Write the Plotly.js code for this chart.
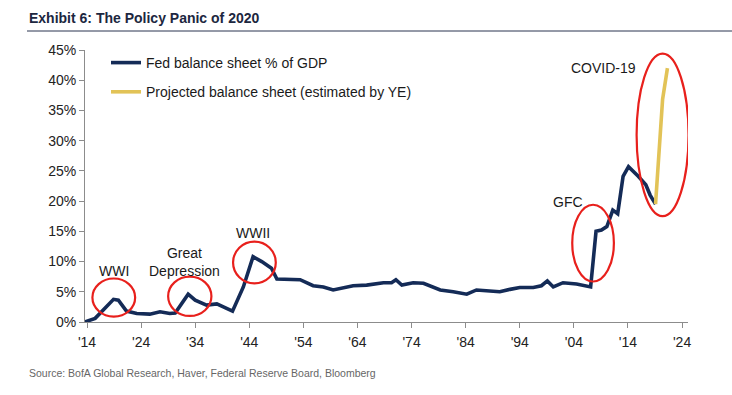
<!DOCTYPE html>
<html>
<head>
<meta charset="utf-8">
<script src="https://cdn.plot.ly/plotly-3.0.1.min.js"></script>
<style>
  html, body { margin: 0; padding: 0; background: #fff; }
  #chart { width: 732px; height: 395px; }
</style>
</head>
<body>
<div id="chart"></div>
<script>
// ---- Data ----
const fedYears = [1913.6, 1915.5, 1917.0, 1918.9, 1919.8, 1921.3, 1923.2, 1925.6, 1927.5, 1929.3,
  1930.3, 1932.7, 1934.0, 1936.1, 1938.0, 1939.8, 1940.9, 1942.9, 1944.7, 1946.3,
  1948.1, 1949.1, 1951.5, 1953.4, 1955.8, 1957.7, 1959.5, 1961.4, 1963.2, 1965.7,
  1968.8, 1970.3, 1971.1, 1972.2, 1974.3, 1976.2, 1978.0, 1979.3, 1981.7, 1984.2,
  1986.0, 1988.5, 1990.3, 1992.2, 1994.0, 1996.5, 1998.0, 1999.1, 2000.2, 2002.0,
  2004.5, 2007.1, 2008.1, 2009.1, 2010.1, 2011.2, 2012.1, 2013.1, 2014.1, 2015.9,
  2017.3, 2018.1, 2019.1];
const fedPct = [0.0, 0.6, 2.0, 3.75, 3.6, 1.8, 1.4, 1.3, 1.7, 1.4,
  1.5, 4.6, 3.6, 2.8, 3.0, 2.3, 1.8, 5.8, 10.8, 10.0,
  8.9, 7.1, 7.1, 7.0, 6.0, 5.8, 5.3, 5.7, 6.0, 6.1,
  6.5, 6.5, 7.0, 6.1, 6.5, 6.4, 5.8, 5.3, 5.0, 4.6,
  5.3, 5.2, 5.0, 5.4, 5.7, 5.7, 6.0, 6.8, 5.8, 6.5,
  6.3, 5.8, 15.0, 15.2, 15.8, 18.5, 17.9, 24.1, 25.7, 24.1,
  22.7, 21.0, 19.5];
const projYears = [2019.1, 2020.4, 2021.3];
const projPct = [19.5, 36.8, 42.0];

const tickYears = [1914, 1924, 1934, 1944, 1954, 1964, 1974, 1984, 1994, 2004, 2014, 2024];
const tickLabels = ["'14", "'24", "'34", "'44", "'54", "'64", "'74", "'84", "'94", "'04", "'14", "'24"];
const yTicks = [0, 5, 10, 15, 20, 25, 30, 35, 40, 45];
const yTickLabels = ["0%", "5%", "10%", "15%", "20%", "25%", "30%", "35%", "40%", "45%"];

// Event callouts: label, label position, ellipse bounds (year0, year1, pct0, pct1)
const eventLabels = ["WWI", "Great<br>Depression", "WWII", "GFC", "COVID-19"];
const eventLabelX = [1918.9, 1932.1, 1944.7, 2003.0, 2009.4];
const eventLabelY = [8.5, 10.0, 14.7, 19.9, 42.0];
const ellipseX0 = [1915.0, 1929.0, 1941.0, 2003.7, 2015.6];
const ellipseX1 = [1922.9, 1937.0, 1948.9, 2011.4, 2025.2];
const ellipseY0 = [0.9, 1.0, 6.4, 6.7, 17.5];
const ellipseY1 = [7.2, 7.5, 13.3, 19.4, 44.4];

// ---- Layout helpers ----
const W = 732, H = 395;
const M = { l: 85, r: 44, t: 50, b: 73 };
const pw = W - M.l - M.r, ph = H - M.t - M.b;
const px = x => (x - M.l) / pw;
const py = y => (H - M.b - y) / ph;

const navy = '#142b57';
const gold = '#e2c357';
const red = '#e8201c';

const traces = [
  {
    x: fedYears, y: fedPct, type: 'scatter', mode: 'lines',
    name: 'Fed balance sheet % of GDP', legendgroup: 'a',
    line: { color: navy, width: 3.6, shape: 'linear' }
  },
  {
    x: projYears, y: projPct, type: 'scatter', mode: 'lines',
    name: 'Projected balance sheet (estimated by YE)', legendgroup: 'b',
    line: { color: gold, width: 3.6 }
  }
];

const shapes = [];
for (let i = 0; i < ellipseX0.length; i++) {
  shapes.push({
    type: 'circle', xref: 'x', yref: 'y',
    x0: ellipseX0[i], x1: ellipseX1[i], y0: ellipseY0[i], y1: ellipseY1[i],
    line: { color: red, width: 2.2 }
  });
}
shapes.push({
  type: 'line', xref: 'paper', yref: 'paper',
  x0: px(27), x1: px(732), y0: py(31), y1: py(31),
  line: { color: '#2a3550', width: 1 }
});

const annotations = [];
for (let i = 0; i < eventLabels.length; i++) {
  annotations.push({
    x: eventLabelX[i], y: eventLabelY[i], xref: 'x', yref: 'y',
    text: eventLabels[i], showarrow: false,
    font: { family: 'Liberation Sans, Arial, sans-serif', size: 14, color: '#1a1a1a' },
    xanchor: 'center', yanchor: 'middle'
  });
}
annotations.push({
  x: px(27), y: py(18), xref: 'paper', yref: 'paper',
  text: '<b>Exhibit 6: The Policy Panic of 2020</b>', showarrow: false,
  xanchor: 'left', yanchor: 'middle',
  font: { family: 'Liberation Sans, Arial, sans-serif', size: 14, color: '#1c2740' }
});
annotations.push({
  x: px(27), y: py(373), xref: 'paper', yref: 'paper',
  text: 'Source: BofA Global Research, Haver, Federal Reserve Board, Bloomberg', showarrow: false,
  xanchor: 'left', yanchor: 'middle',
  font: { family: 'Liberation Sans, Arial, sans-serif', size: 10.5, color: '#666666' }
});

const layout = {
  width: W, height: H,
  margin: M,
  paper_bgcolor: '#ffffff', plot_bgcolor: '#ffffff',
  font: { family: 'Liberation Sans, Arial, sans-serif', size: 14, color: '#222' },
  showlegend: true,
  legend: {
    x: px(106), y: py(47), xanchor: 'left', yanchor: 'top',
    bgcolor: 'rgba(255,255,255,0)', borderwidth: 0,
    traceorder: 'grouped', tracegroupgap: 8,
    font: { family: 'Liberation Sans, Arial, sans-serif', size: 14, color: '#1a1a1a' }
  },
  xaxis: {
    range: [1913.63, 2025.1], showgrid: false, zeroline: false,
    showline: true, linecolor: '#8c8c8c', linewidth: 1,
    ticks: 'outside', ticklen: 5, tickcolor: '#8c8c8c',
    tickvals: tickYears, ticktext: tickLabels, ticklabelstandoff: 2,
    tickfont: { size: 14, color: '#222' }
  },
  yaxis: {
    range: [0, 45], showgrid: false, zeroline: false,
    showline: true, linecolor: '#8c8c8c', linewidth: 1,
    ticks: 'outside', ticklen: 5, tickcolor: '#8c8c8c',
    tickvals: yTicks, ticktext: yTickLabels,
    tickfont: { size: 14, color: '#222' }
  },
  shapes: shapes,
  annotations: annotations
};

Plotly.newPlot('chart', traces, layout, { displayModeBar: false, staticPlot: true });
</script>
</body>
</html>
